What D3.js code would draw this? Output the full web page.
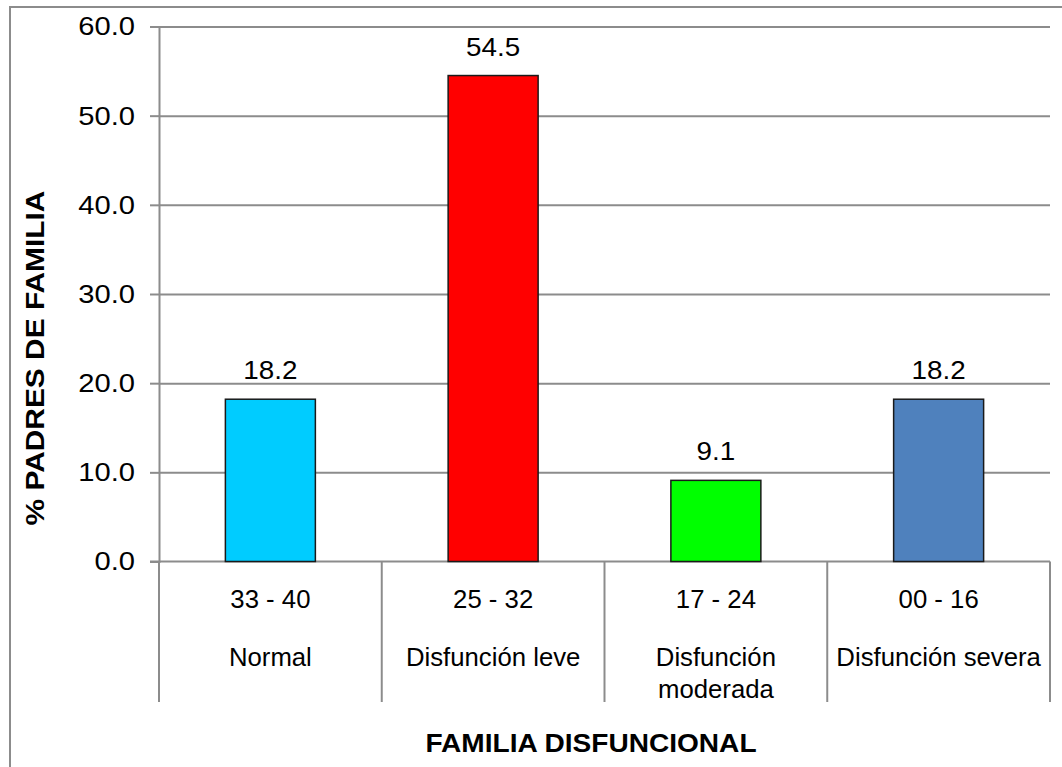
<!DOCTYPE html>
<html>
<head>
<meta charset="utf-8">
<script src="https://cdn.jsdelivr.net/npm/d3@7"></script>
<style>
  body { margin: 0; background: #fff; }
  text { font-family: 'Liberation Sans', Arial, sans-serif; fill: #000; }
</style>
</head>
<body>
<svg></svg>
<script>
// chart data
let ranges = ['33 - 40', '25 - 32', '17 - 24', '00 - 16']
let levels = [['Normal'], ['Disfunción leve'], ['Disfunción', 'moderada'], ['Disfunción severa']]
let values = [18.2, 54.5, 9.1, 18.2]
let barColors = ['#00CCFF', '#FF0000', '#00FF00', '#4F81BD']
let yTicks = [0, 10, 20, 30, 40, 50, 60]
let yTitle = '% PADRES DE FAMILIA'
let xTitle = 'FAMILIA DISFUNCIONAL'

let width = 1062,
    height = 767,
    plotLeft = 159, plotRight = 1050,
    plotTop = 26.5, plotBottom = 561.5,
    gridColor = '#8c8c8c'

let svg = d3.select('svg')
  .attr('width', width)
  .attr('height', height)

// the original font is a bit wider than Arial, so stretch text horizontally
let at = (x, y, k) => `translate(${x},${y}) scale(${k},1)`

// outer chart border (runs off the picture on right/bottom)
svg.append('rect')
  .attr('x', 10).attr('y', 7)
  .attr('width', 1100).attr('height', 800)
  .attr('fill', 'none')
  .attr('stroke', gridColor)
  .attr('stroke-width', 2)

let x = d3.scaleBand()
  .domain(ranges)
  .range([plotLeft, plotRight])
  .paddingInner(0.596)
  .paddingOuter(0.298)

let y = d3.scaleLinear()
  .domain([0, 60])
  .range([plotBottom, plotTop])

// gridlines
svg.append('g')
  .attr('transform', `translate(${plotLeft},0)`)
  .call(d3.axisLeft(y).tickValues(yTicks.slice(1)).tickSize(-(plotRight - plotLeft)).tickFormat(''))
  .call(g => g.select('.domain').remove())
  .selectAll('line')
  .attr('stroke', gridColor)
  .attr('stroke-width', 2)

// y axis
let yAxis = svg.append('g')
  .attr('transform', `translate(${plotLeft},0)`)
  .call(d3.axisLeft(y).tickValues(yTicks).tickSize(9).tickPadding(14).tickFormat(d3.format('.1f')))
yAxis.select('.domain').attr('stroke', gridColor).attr('stroke-width', 2)
yAxis.selectAll('line').attr('stroke', gridColor).attr('stroke-width', 2)
yAxis.selectAll('text')
  .attr('x', 0)
  .attr('transform', at(-24, 0, 1.1))
  .style('font-size', '26.5px')
  .style('font-family', "'Liberation Sans', Arial, sans-serif")
  .attr('fill', '#000')

// x axis line + category separators
svg.append('line')
  .attr('x1', plotLeft - 9).attr('x2', plotRight)
  .attr('y1', y(0)).attr('y2', y(0))
  .attr('stroke', gridColor).attr('stroke-width', 2)

let step = x.step()
svg.selectAll('.sep')
  .data(d3.range(ranges.length + 1))
  .enter()
  .append('line')
  .attr('class', 'sep')
  .attr('x1', i => plotLeft + i * step)
  .attr('x2', i => plotLeft + i * step)
  .attr('y1', y(0))
  .attr('y2', 702)
  .attr('stroke', gridColor).attr('stroke-width', 2)

// bars
svg.selectAll('.bar')
  .data(values)
  .enter()
  .append('rect')
  .attr('class', 'bar')
  .attr('x', (d, i) => x(ranges[i]))
  .attr('y', d => y(d))
  .attr('width', x.bandwidth())
  .attr('height', d => y(0) - y(d))
  .attr('fill', (d, i) => barColors[i])
  .attr('stroke', '#1a1a1a')
  .attr('stroke-width', 1.5)

// value labels
svg.selectAll('.val')
  .data(values)
  .enter()
  .append('text')
  .attr('class', 'val')
  .attr('transform', (d, i) => at(x(ranges[i]) + x.bandwidth() / 2, y(d) - 20, 1.07))
  .attr('text-anchor', 'middle')
  .style('font-size', '26px')
  .text(d => d3.format('.1f')(d))

// category labels
let cx = d => x(d) + x.bandwidth() / 2
svg.selectAll('.range')
  .data(ranges)
  .enter()
  .append('text')
  .attr('class', 'range')
  .attr('transform', d => at(cx(d), 608, 1.03))
  .attr('text-anchor', 'middle')
  .style('font-size', '25px')
  .text(d => d)

levels.forEach((lines, i) => {
  lines.forEach((t, j) => {
    svg.append('text')
      .attr('transform', at(cx(ranges[i]), 666 + j * 32, 1.03))
      .attr('text-anchor', 'middle')
      .style('font-size', '25px')
      .text(t)
  })
})

// axis titles
svg.append('text')
  .attr('transform', 'translate(44,358) rotate(-90) scale(1.15,1)')
  .attr('text-anchor', 'middle')
  .style('font-size', '26px')
  .style('font-weight', 'bold')
  .text(yTitle)

svg.append('text')
  .attr('transform', at(591, 752, 1.08))
  .attr('text-anchor', 'middle')
  .style('font-size', '26px')
  .style('font-weight', 'bold')
  .text(xTitle)
</script>
</body>
</html>
